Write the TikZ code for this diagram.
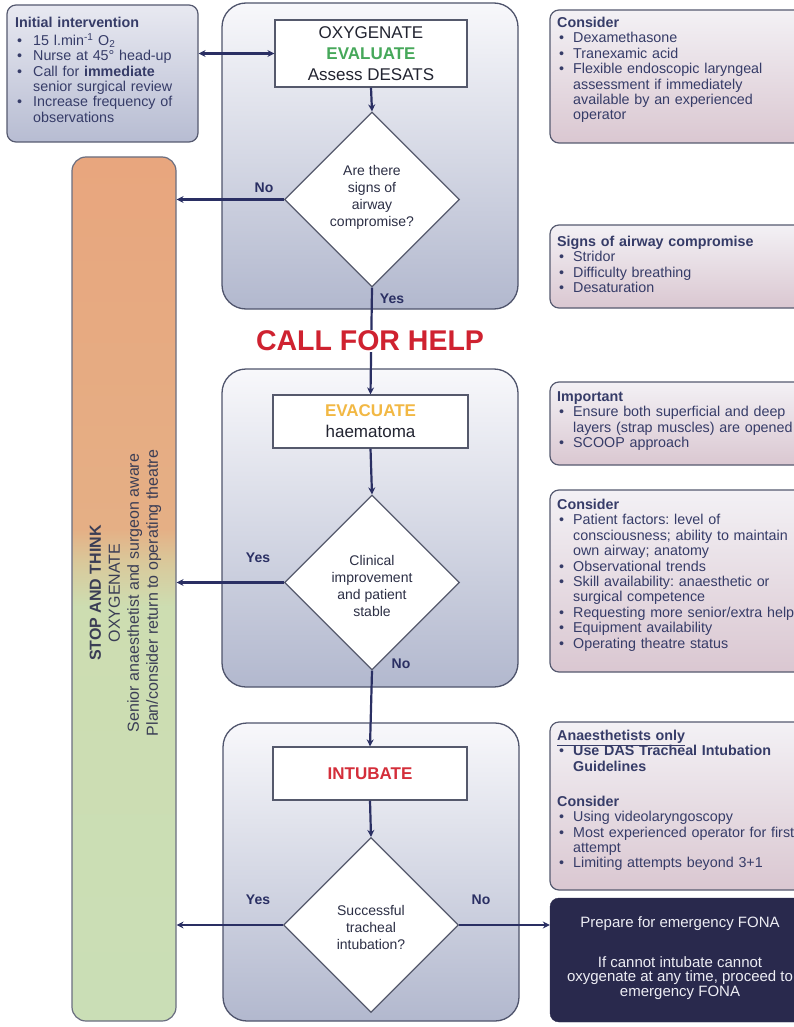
\documentclass[tikz,border=0pt]{standalone}
\usepackage{fontspec}
\setmainfont{Liberation Sans}
\usetikzlibrary{shapes.geometric,arrows.meta}

\definecolor{navy}{HTML}{2A2F63}
\definecolor{panelline}{HTML}{4F546C}
\definecolor{panelT}{HTML}{F8F8FB}
\definecolor{panelB}{HTML}{B2B8CE}
\definecolor{boxline}{HTML}{55596C}
\definecolor{boxtext}{HTML}{222431}
\definecolor{qtext}{HTML}{2C2F45}
\definecolor{sideline}{HTML}{565A70}
\definecolor{sideT}{HTML}{F3F1F5}
\definecolor{sideB}{HTML}{DAC7D1}
\definecolor{initT}{HTML}{E8E9F1}
\definecolor{initB}{HTML}{B7BCD2}
\definecolor{stext}{HTML}{363C68}
\definecolor{fonafill}{HTML}{29294D}
\definecolor{fonatext}{HTML}{EDEDF4}
\definecolor{evalgreen}{HTML}{46A85A}
\definecolor{evacorange}{HTML}{F2B844}
\definecolor{intred}{HTML}{D42E3A}
\definecolor{helpred}{HTML}{CF2230}
\definecolor{barO}{HTML}{E8A67E}
\definecolor{barO2}{HTML}{E5AF85}
\definecolor{barY}{HTML}{D9C99B}
\definecolor{barG}{HTML}{CADEB6}
\definecolor{barG2}{HTML}{CDDDB1}
\definecolor{barline}{HTML}{6A6E80}
\definecolor{bartext}{HTML}{3A3D55}

% orange at the top fading to green below the middle
\pgfdeclareverticalshading{stopbar}{100bp}{color(0bp)=(barG); color(25bp)=(barG); color(49bp)=(barG2); color(51.5bp)=(barY); color(53.5bp)=(barO2); color(75bp)=(barO); color(100bp)=(barO)}

\setlength{\parindent}{0pt}
\lineskiplimit=-20pt
\frenchspacing

% bullet item with hanging indent; continuation lines via \newline
\newcommand\bul[2][16pt]{\par\hangindent=#1\hangafter=1\noindent\makebox[#1][l]{\hspace{2pt}\textbullet}#2}

\begin{document}
\begin{tikzpicture}[x=1pt,y=-1pt,
  panel/.style={draw=panelline, line width=1.3pt, rounded corners=24pt, top color=panelT, bottom color=panelB, inner sep=0},
  procbox/.style={draw=boxline, line width=1.2pt, fill=white, inner sep=0, align=center, font=\fontsize{17}{21}\selectfont, text=boxtext},
  decision/.style={diamond, draw=boxline, line width=1.2pt, fill=white, inner sep=0, minimum width=175pt, minimum height=175pt},
  dtext/.style={align=center, inner sep=0, font=\fontsize{14}{17}\selectfont, text=qtext},
  sidebox/.style={draw=sideline, line width=1.2pt, rounded corners=9pt, top color=sideT, bottom color=sideB, inner sep=0},
  sidetext/.style={anchor=north west, inner sep=0, text width=300pt, font=\fontsize{14.3}{15.4}\selectfont, text=stext},
  arr/.style={draw=navy, line width=2.2pt, -{Stealth[length=7pt,width=7pt]}},
  yn/.style={font=\fontsize{14}{16}\selectfont\bfseries, text=navy, inner sep=0}
]
\useasboundingbox (0,0) rectangle (794,1027);
\fill[white] (0,0) rectangle (794,1027);

% stage panels
\node[panel, minimum width=296pt, minimum height=306pt] (p1) at (370,156) {};
\node[panel, minimum width=296pt, minimum height=318pt] (p2) at (370,528) {};
\node[panel, minimum width=296pt, minimum height=298pt] (p3) at (371,872) {};

% stop-and-think bar
\node[draw=barline, line width=1.2pt, rounded corners=14pt, shading=stopbar, minimum width=104pt, minimum height=864pt, inner sep=0] (bar) at (124,589) {};
\node[rotate=90, align=center, inner sep=0, font=\fontsize{16}{19}\selectfont, text=bartext] (bartxt) at (125.5,593)
  {\textbf{STOP AND THINK}\\OXYGENATE\\Senior anaesthetist and surgeon aware\\Plan/consider return to operating theatre};

% initial intervention
\node[draw=sideline, line width=1.2pt, rounded corners=9pt, top color=initT, bottom color=initB, inner sep=0, minimum width=191pt, minimum height=137pt] (init) at (102.5,73.5) {};
\node[sidetext] (inittxt) at (15,16.6) {\noindent\strut\textbf{Initial intervention}%
  \bul[18pt]{15 l.min\textsuperscript{-1} O\textsubscript{2}}%
  \bul[18pt]{Nurse at 45° head-up}%
  \bul[18pt]{Call for \textbf{immediate}\newline senior surgical review}%
  \bul[18pt]{Increase frequency of\newline observations}\par};

% right-hand notes
\node[sidebox, minimum width=260pt, minimum height=133pt] (r1) at (680,76.5) {};
\node[sidetext] (r1txt) at (557,16.6) {\noindent\strut\textbf{Consider}%
  \bul{Dexamethasone}%
  \bul{Tranexamic acid}%
  \bul{Flexible endoscopic laryngeal\newline assessment if immediately\newline available by an experienced\newline operator}\par};

\node[sidebox, minimum width=260pt, minimum height=83pt] (r2) at (680,266.5) {};
\node[sidetext] (r2txt) at (557,235.6) {\noindent\strut\textbf{Signs of airway compromise}%
  \bul{Stridor}%
  \bul{Difficulty breathing}%
  \bul{Desaturation}\par};

\node[sidebox, minimum width=260pt, minimum height=83pt] (r3) at (680,423.5) {};
\node[sidetext] (r3txt) at (557,390.6) {\noindent\strut\textbf{Important}%
  \bul{Ensure both superficial and deep\newline layers (strap muscles) are opened}%
  \bul{SCOOP approach}\par};

\node[sidebox, minimum width=260pt, minimum height=182pt] (r4) at (680,581) {};
\node[sidetext] (r4txt) at (557,498.6) {\noindent\strut\textbf{Consider}%
  \bul{Patient factors: level of\newline consciousness; ability to maintain\newline own airway; anatomy}%
  \bul{Observational trends}%
  \bul{Skill availability: anaesthetic or\newline surgical competence}%
  \bul{Requesting more senior/extra help}%
  \bul{Equipment availability}%
  \bul{Operating theatre status}\par};

\node[sidebox, minimum width=260pt, minimum height=168pt] (r5) at (680,806) {};
\node[sidetext] (r5txt) at (557,729.6) {\noindent\strut\underline{\textbf{Anaesthetists only}}%
  \bul{\textbf{Use DAS Tracheal Intubation\newline Guidelines}}\par\vspace{19.6pt}%
  \noindent\textbf{Consider}%
  \bul{Using videolaryngoscopy}%
  \bul{Most experienced operator for first\newline attempt}%
  \bul{Limiting attempts beyond 3+1}\par};

\node[draw=fonafill, fill=fonafill, rounded corners=9pt, inner sep=0, minimum width=260pt, minimum height=124pt] (fona) at (680,960) {};
\node[anchor=north, align=center, inner sep=0, font=\fontsize{15}{14.5}\selectfont, text=fonatext] (fonatxt) at (680,916.3)
  {\strut Prepare for emergency FONA\\[25.5pt]If cannot intubate cannot\\oxygenate at any time, proceed to\\emergency FONA};

% stage 1
\node[procbox, minimum width=192pt, minimum height=67pt] (b1) at (371,53.5)
  {OXYGENATE\\\textcolor{evalgreen}{\textbf{EVALUATE}}\\Assess DESATS};
\node[decision] (d1) at (372,199.5) {};
\node[dtext] (d1txt) at (372,197) {Are there\\signs of\\airway\\compromise?};

% stage 2
\node[procbox, minimum width=195pt, minimum height=53pt] (b2) at (370.5,421.5)
  {\textcolor{evacorange}{\textbf{EVACUATE}}\\haematoma};
\node[decision] (d2) at (372,582.5) {};
\node[dtext] (d2txt) at (372,586) {Clinical\\improvement\\and patient\\stable};

% stage 3
\node[procbox, minimum width=194pt, minimum height=53pt] (b3) at (370,773.5)
  {\textcolor{intred}{\textbf{INTUBATE}}};
\node[decision] (d3) at (371,925) {};
\node[dtext] (d3txt) at (371,927) {Successful\\tracheal\\intubation?};

% connectors
\draw[arr, {Stealth[length=7pt,width=7pt]}-{Stealth[length=7pt,width=7pt]}] (b1.west -| init.east) -- (b1.west);
\draw[arr] (b1.south) -- (d1.north);
\draw[arr] (d1.west) -- (d1.west -| bar.east);
\draw[arr] (d1.south) -- (b2.north);
\draw[arr] (b2.south) -- (d2.north);
\draw[arr] (d2.west) -- (d2.west -| bar.east);
\draw[arr] (d2.south) -- (b3.north);
\draw[arr] (b3.south) -- (d3.north);
\draw[arr] (d3.west) -- (d3.west -| bar.east);
\draw[arr] (d3.east) -- (d3.east -| fona.west);

\node[font=\fontsize{28.5}{30}\selectfont\bfseries, text=helpred, fill=white, inner sep=1pt] (help) at (370,341) {CALL FOR HELP};

% branch labels
\node[yn] (no1) at (264,188) {No};
\node[yn] (yes1) at (392,299) {Yes};
\node[yn] (yes2) at (258,558) {Yes};
\node[yn] (no2) at (401,664) {No};
\node[yn] (yes3) at (258,900) {Yes};
\node[yn] (no3) at (481,900) {No};
\end{tikzpicture}
\end{document}
